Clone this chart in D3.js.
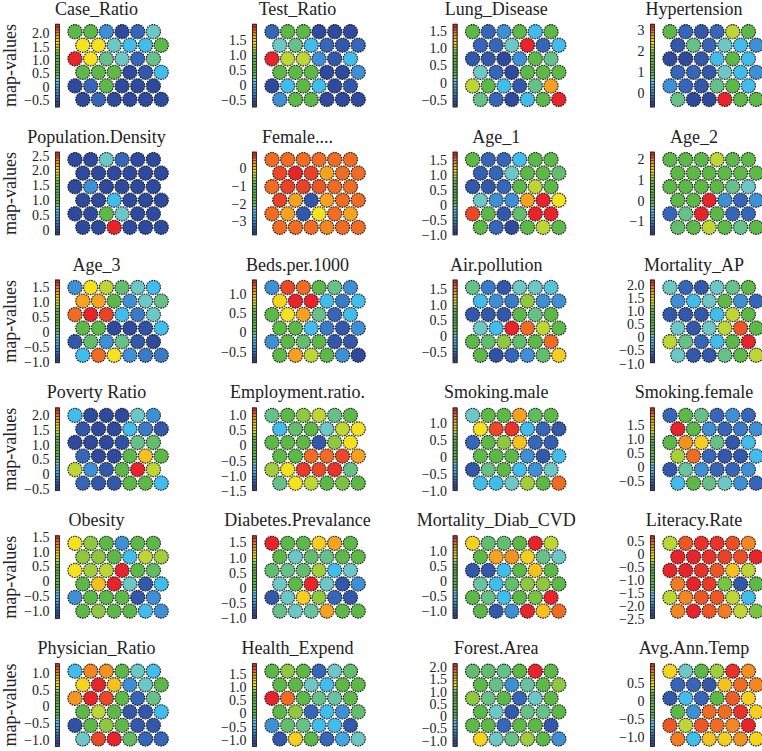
<!DOCTYPE html>
<html><head><meta charset="utf-8">
<script src="https://cdn.jsdelivr.net/npm/d3@7"></script>
<style>html,body{margin:0;padding:0;background:#fff;}svg{display:block;}</style>
</head><body>
<svg id="chart" width="762" height="751"></svg>
<script>
// ---------- data ----------
const titles = ["Case_Ratio","Test_Ratio","Lung_Disease","Hypertension",
  "Population.Density","Female....","Age_1","Age_2",
  "Age_3","Beds.per.1000","Air.pollution","Mortality_AP",
  "Poverty Ratio","Employment.ratio.","Smoking.male","Smoking.female",
  "Obesity","Diabetes.Prevalance","Mortality_Diab_CVD","Literacy.Rate",
  "Physician_Ratio","Health_Expend","Forest.Area","Avg.Ann.Temp"];

// colour-key range of each map (bottom, top)
const keyMin = [-0.76,-0.73,-0.70,-0.65, -0.18,-3.76,-1.01,-1.66, -1.03,-0.78,-0.85,-0.97,
  -0.57,-1.50,-1.00,-0.83, -1.26,-1.02,-1.26,-2.50, -1.19,-1.24,-1.23,-1.27];
const keyMax = [2.34,2.03,1.69,3.27, 2.62,0.89,1.75,2.36, 1.73,1.35,1.79,2.20,
  2.26,1.25,1.45,2.09, 1.53,1.72,1.50,0.69, 1.27,1.87,2.13,1.03];

const tickLabels = [
  ["2.0","1.5","1.0","0.5","0","−0.5"],
  ["1.5","1.0","0.5","0","−0.5"],
  ["1.5","1.0","0.5","0","−0.5"],
  ["3","2","1","0"],
  ["2.5","2.0","1.5","1.0","0.5","0"],
  ["0","−1","−2","−3"],
  ["1.5","1.0","0.5","0","−0.5","−1.0"],
  ["2","1","0","−1"],
  ["1.5","1.0","0.5","0","−0.5","−1.0"],
  ["1.0","0.5","0","−0.5"],
  ["1.5","1.0","0.5","0","−0.5"],
  ["2.0","1.5","1.0","0.5","0","−0.5","−1.0"],
  ["2.0","1.5","1.0","0.5","0","−0.5"],
  ["1.0","0.5","0","−0.5","−1.0","−1.5"],
  ["1.0","0.5","0","−0.5","−1.0"],
  ["1.5","1.0","0.5","0","−0.5"],
  ["1.5","1.0","0.5","0","−0.5","−1.0"],
  ["1.5","1.0","0.5","0","−0.5","−1.0"],
  ["1.0","0.5","0","−0.5","−1.0"],
  ["0.5","0","−0.5","−1.0","−1.5","−2.0","−2.5"],
  ["1.0","0.5","0","−0.5","−1.0"],
  ["1.5","1.0","0.5","0","−0.5","−1.0"],
  ["2.0","1.5","1.0","0.5","0","−0.5","−1.0"],
  ["0.5","0","−0.5","−1.0"]
];

// node heat level (0 = lowest/blue ... 10 = highest/red), 6 rows x 6 nodes, top row first
const caseRatio   = [5,5,2,0,1,4, 7,7,4,3,3,5, 10,7,4.5,4,1,4.5, 5,5,5,0,0.5,3, 0,1,5,0,0,0, 0,1,0,0,0,0];
const testRatio   = [1,5,5,0,0,0, 4,4.5,3,1,0.5,1, 10,6,6,2,0.5,3, 5,5,5,0,0,2, 0,3,5,3,0,0.5, 2,5,5,0,0,0];
const lungDisease = [5,1,2,5,3,5, 1,1,4,10,1,3, 0.5,0.5,0,2,5,4.5, 4,1,0,5,5,5, 6,5,3,0.5,4.5,8, 4.5,1,0,3,5,10];
const hypertension= [5,1,0.5,1,6,5, 0.5,4.5,1,4,3,2, 0,0,0.5,3,5,3, 1,1,0.5,4,3,2, 2,1,0.5,4.5,5,3, 4.5,0,0,10,5,5];
const popDensity  = [0,0,4,1,0,0, 0,0,0,0,0,0, 0,2,0,0,0,0, 0,0,3,0,0,0, 0,0,5,4,0,0, 0,0,10,0,0,0];
const female      = [9,9,9,9,9,9, 9.5,10,9.6,8,9,9, 9,9.6,9.6,9.3,9,9, 9.6,8,0.5,8,9,9, 9,8,0.5,7,9,8, 9,9,9,8.5,9,9];
const age1        = [5,1,1,3,5,5, 0.8,1,4,5,5,4.7, 0.5,0.5,1,5,6,5, 4,2,2,8,10,7, 9.5,5,0.5,4.7,10,10, 5,1,0,5,6,5];
const age2        = [5,5,5,6,5,5, 5,5,5,5,5,5, 5,5,5,5,4.5,4, 5,5,10,2,1,2, 1,4.5,10,5,1,1, 4.7,5,6,5,4.5,5];
const age3        = [2,7,6,4.7,4,3, 8,8,5,2,4,4.5, 9,10,9.6,3,1.5,4, 5,5,0,0,0.3,3, 0.5,4.7,2,4.5,0.5,0, 3,9,7,2,1.5,1.5];
const beds        = [2,9.5,9,5,4.5,2, 7.2,10,10,3,1.5,3, 5,7,8,4.5,1,3, 5,5,3,1.5,0.5,2, 2,5,4.7,5,0.5,0.5, 5,8,6,5,2,0];
const airPollution= [4.5,1.5,0.5,4,4,3.5, 3,2,1.5,5.5,2,2, 0.5,0.5,0.5,5,4.5,5, 4,3,10,9,6,5, 5,4.7,5.5,4.7,5,9, 5,0.3,1,2,4.7,7.3];
const mortalityAP = [4,1,0.5,4,4.5,5, 2,3,4,5,2,1, 0.5,0.5,0.5,3,6,5, 4,0.5,4,6,9.3,5, 6,4.5,1,3,5,10, 4,0.5,0.5,4.5,5,6];
const poverty     = [3,0,0,0,4,2, 0.5,0,0,3,1.5,0.5, 0,0,0,0.3,4.5,4.7, 1,0,0,5,7.5,5, 6,2,0.5,5,10,6, 1,0.5,0.5,5,5,3];
const employment  = [4.5,5,5.5,6,4.5,5, 3,4.7,5,4,6,7, 5,5,5,0.5,5.5,7, 5,5,9,9,9.5,8, 5.7,7,9.7,9.5,9.8,4.5, 4.5,7,6,5,5.3,5];
const smokingMale = [4,5,5,8,4.8,5, 7,9.5,9.8,3,1,0.5, 1,5,5.5,7.5,1,0.7, 5,5,5,2,0.5,3, 0.5,4.5,5,3,2,4, 3,3,4,5.7,5,9];
const smokingFem  = [1,5,4.5,1,2,1, 10,5,2,1,1.5,2, 5,8.3,7.3,4.5,0.5,3, 5.8,9,1,0.5,0.5,3, 0.5,4.3,2,1,1,2, 3,5,4.5,4,2,1];
const obesity     = [7,5.5,5,2,5,5, 5.5,5.5,5,3,6,5.7, 7,5.7,6,10,5,4.8, 5,7.5,10,4,0.5,3, 2,5,5,5,0.5,2, 5,5.5,5,5,3,2];
const diabetes    = [10,5,5,7.3,8,5, 5,4,4.7,4.5,5,5, 4.7,4.5,4.7,5.7,3,4, 4,5,10,4,0.5,2, 0.5,4,7.3,5.5,1,0.5, 4.5,4,4.3,8,5,5];
const mortDiabCVD = [7.3,4.7,4.7,5,10,6, 5,8,8.3,7.3,4.5,4, 0.5,0.5,3,5,7.5,5, 4.3,3,4.7,5.5,5.5,5, 5,4.5,3,5,5.3,10, 5,0.5,2,10,7.5,9];
const literacy    = [6,9.3,9.8,9.8,9.4,8.5, 10,10,9.8,9.6,9.4,10, 10,10,9.8,9.3,7.5,6, 8.7,10,9.7,5.3,0.5,5, 6,8.5,9.3,9.3,6,3, 8.5,10,9.3,8.7,6,5.3];
const physician   = [3,8.5,8.3,5,4,3, 7.2,10,7.5,2,4,5, 8.2,10,9.5,5,1,4.5, 5,6,5,0.5,0.5,3, 0.3,5,5.5,5,0.5,0.5, 4,9.5,10,4.8,1,1];
const healthExp   = [5,5.5,5,1,4,4.7, 5,5,4,3,5,5, 10,9,5,4.5,4.3,5, 5,5.5,1,3,2,4.7, 2,4.7,4.5,3,3,0.5, 0.5,7.3,5,1,2.5,4];
const forestArea  = [4.7,4.7,4.5,5,10,5, 5,4.5,2,4.3,5,5.5, 5.5,4.5,5,1,4,5, 5,4,0.5,4.5,4.5,5, 5,5,1,5,5,0.5, 7.2,4,4.5,5.7,5,2];
const avgTemp     = [7.2,4,5,5.7,9.8,8.3, 1,1,0.5,7.5,9,8.5, 0.5,3,1,5,9.2,7.3, 5,2,9,9,9.8,7.3, 9.3,6,9.3,9,8.5,10, 8.7,3,7.5,7.3,8.3,7.2];

const nodeLevels = [caseRatio,testRatio,lungDisease,hypertension,popDensity,female,age1,age2,
  age3,beds,airPollution,mortalityAP,poverty,employment,smokingMale,smokingFem,
  obesity,diabetes,mortDiabCVD,literacy,physician,healthExp,forestArea,avgTemp];

// colour key segments (levels, bottom to top)
const keyLevels = [0,0,0.5,1,1.5,2,2.5,3,3.5,4,4.5,5,5,5,5,5,5,5,5,5.5,6,6.5,7,7.5,8,8.5,9,9.5,10];
const paletteStops = [0,1,2,3,4,5,6,7,8,9,10];
const paletteColors = ["#2e4a9e","#3566ba","#3d90d6","#40bdec","#6cc8c6","#5db947",
  "#bdd634","#f3e21c","#f6a21e","#f06c22","#e8242a"];

// ---------- layout ----------
const colX0 = [75, 272, 472.6, 670];      // first node centre x per column
const titleX = [96.5, 297.5, 496.3, 694];
const rowY0 = 31.7, rowStep = 127.9;
const dx = 15.67, dy = 13.55, R = 7.1;
const fontFam = "'Liberation Serif','Times New Roman',serif";

const svg = d3.select("#chart");
const color = d3.scaleLinear().domain(paletteStops).range(paletteColors).interpolate(d3.interpolateRgb).clamp(true);
const colIdx = d3.scaleLinear().domain([0,5]).range([0, 5*dx]);
const rowIdx = d3.scaleLinear().domain([0,5]).range([0, 5*dy]);

titles.forEach((t, i) => {
  const c = i % 4, r = Math.floor(i / 4);
  const x0 = colX0[c], y0 = rowY0 + r*rowStep;
  const g = svg.append("g");
  const top = y0 - 7.5, bot = y0 + 5*dy + 7.5;

  g.append("text").attr("x", titleX[c]).attr("y", y0 - 17)
    .attr("text-anchor","middle").attr("font-family",fontFam).attr("font-size",18)
    .attr("fill","#222").text(t);

  if (c === 0) {
    g.append("text").attr("transform",`translate(16,${(top+bot)/2}) rotate(-90)`)
      .attr("text-anchor","middle").attr("font-family",fontFam).attr("font-size",18)
      .attr("fill","#222").text("map-values");
  }

  // nodes
  const nodes = nodeLevels[i].map((v, k) => ({v, row: Math.floor(k/6), col: k%6}));
  g.selectAll("circle.node").data(nodes).join("circle")
    .attr("class","node")
    .attr("cx", d => x0 + colIdx(d.col) + (d.row % 2 ? dx/2 : 0))
    .attr("cy", d => y0 + rowIdx(d.row))
    .attr("r", R)
    .attr("fill", d => color(d.v))
    .attr("stroke","#111").attr("stroke-width",1.1)
    .attr("stroke-dasharray","1.6,1");

  // colour key
  const kx = x0 - 19.5, kw = 4;
  const segScale = d3.scaleLinear().domain([0, keyLevels.length]).range([bot, top]);
  g.selectAll("rect.seg").data(keyLevels).join("rect")
    .attr("class","seg")
    .attr("x", kx).attr("width", kw)
    .attr("y", (d, k) => segScale(k+1))
    .attr("height", (d, k) => segScale(k) - segScale(k+1))
    .attr("fill", d => color(d))
    .attr("stroke","#222").attr("stroke-width",0.6);
  g.append("rect").attr("x",kx).attr("y",top).attr("width",kw).attr("height",bot-top)
    .attr("fill","none").attr("stroke","#222").attr("stroke-width",0.8);

  // axis labels
  const yScale = d3.scaleLinear().domain([keyMin[i], keyMax[i]]).range([bot, top]);
  const axis = d3.axisLeft(yScale)
    .tickValues(tickLabels[i].map(s => +s.replace("−","-")))
    .tickFormat((d, k) => tickLabels[i][k])
    .tickSize(0).tickPadding(6);
  const ag = g.append("g").attr("transform",`translate(${kx},0)`).call(axis);
  ag.select(".domain").remove();
  ag.selectAll("text").attr("font-family",fontFam).attr("font-size",14).attr("fill","#222");
});
</script>
</body></html>
